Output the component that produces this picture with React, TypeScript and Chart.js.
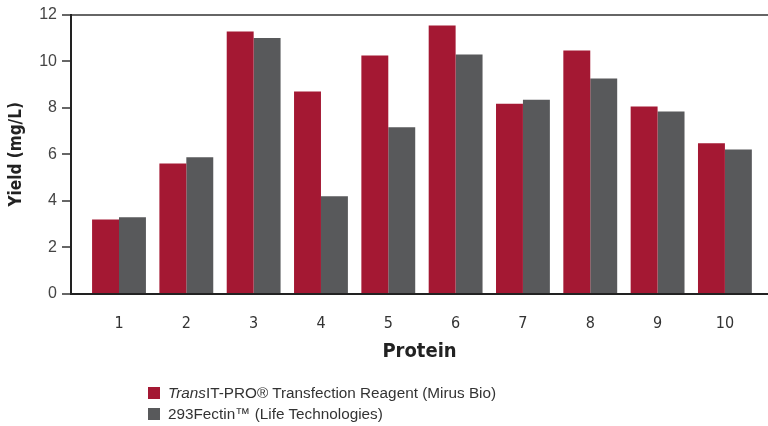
import React, { useEffect, useRef } from "react";
import { Chart, registerables } from "chart.js";

Chart.register(...registerables);

const categories = [1, 2, 3, 4, 5, 6, 7, 8, 9, 10];
const transitPro = [3.2, 5.6, 11.27, 8.7, 10.24, 11.53, 8.17, 10.46, 8.05, 6.47];
const fectin293 = [3.3, 5.87, 11.0, 4.2, 7.16, 10.29, 8.34, 9.26, 7.84, 6.21];
const yTicks = [0, 2, 4, 6, 8, 10, 12];
const seriesNames = ["TransIT-PRO® Transfection Reagent (Mirus Bio)", "293Fectin™ (Life Technologies)"];
const seriesColors = ["#A41833", "#58595B"];

const narrow = '"Liberation Sans Narrow", "DejaVu Sans Condensed", "Roboto Condensed", "Arial Narrow", sans-serif';
const regular = '"Liberation Sans", Arial, sans-serif';

export default function App() {
  const ref = useRef<HTMLCanvasElement | null>(null);

  useEffect(() => {
    document.body.style.margin = "0";
    const canvas = ref.current;
    if (!canvas) return;
    const chart = new Chart(canvas, {
      type: "bar",
      data: {
        datasets: [
          {
            label: seriesNames[0],
            data: categories.map((c, i) => ({ x: c, y: transitPro[i] })),
            backgroundColor: seriesColors[0],
            borderWidth: 0,
          },
          {
            label: seriesNames[1],
            data: categories.map((c, i) => ({ x: c, y: fectin293[i] })),
            backgroundColor: seriesColors[1],
            borderWidth: 0,
          },
        ],
      },
      options: {
        animation: false,
        responsive: false,
        maintainAspectRatio: false,
        layout: { padding: { top: 14, right: 0, bottom: 62, left: 0 } },
        datasets: { bar: { categoryPercentage: 0.8, barPercentage: 1 } },
        plugins: {
          legend: { display: false },
          tooltip: { enabled: false },
        },
        scales: {
          x: {
            type: "linear",
            offset: false,
            bounds: "ticks",
            min: 0.287,
            max: 10.64,
            afterBuildTicks: (scale: any) => {
              scale.ticks = categories.map((v) => ({ value: v }));
            },
            afterFit: (scale: any) => {
              scale.height = 70;
            },
            grid: { display: false },
            border: { display: true, color: "#222", width: 2 },
            ticks: {
              padding: 12,
              color: "#333",
              maxRotation: 0,
              autoSkip: false,
              font: { family: narrow, size: 16 },
              callback: (v: any) => String(v),
            },
            title: {
              display: true,
              text: "Protein",
              color: "#222",
              font: { family: narrow, size: 20, weight: "bold" },
              padding: { top: 6, bottom: 0 },
            },
          },
          y: {
            min: 0,
            max: 12,
            afterBuildTicks: (scale: any) => {
              scale.ticks = yTicks.map((v) => ({ value: v }));
            },
            afterFit: (scale: any) => {
              scale.width = 71;
            },
            grid: {
              display: true,
              drawOnChartArea: true,
              drawTicks: true,
              tickLength: 9,
              tickColor: "#333",
              tickWidth: 1.5,
              lineWidth: 2,
              color: (ctx: any) => (ctx.tick && ctx.tick.value === 12 ? "#666" : "rgba(0,0,0,0)"),
            },
            border: { display: true, color: "#222", width: 2 },
            ticks: {
              padding: 5,
              color: "#444",
              font: { family: regular, size: 16 },
            },
            title: {
              display: true,
              text: "Yield (mg/L)",
              color: "#222",
              font: { family: narrow, size: 17, weight: "bold" },
              padding: { top: 6, bottom: 0 },
            },
          },
        },
      },
    });
    return () => chart.destroy();
  }, []);

  const legendItem = (i: number, top: number) => (
    <div
      key={i}
      style={{
        position: "absolute",
        left: 148,
        top,
        display: "flex",
        alignItems: "center",
        fontFamily: regular,
        fontSize: 15.3,
        color: "#333",
        whiteSpace: "nowrap",
      }}
    >
      <span style={{ display: "inline-block", width: 12, height: 12, background: seriesColors[i], marginRight: 8 }} />
      {i === 0 ? (
        <span>
          <i>Trans</i>
          {seriesNames[0].slice(5)}
        </span>
      ) : (
        <span>{seriesNames[1]}</span>
      )}
    </div>
  );

  return (
    <div style={{ position: "relative", width: 768, height: 426, background: "#fff" }}>
      <canvas ref={ref} width={768} height={426} style={{ display: "block", width: 768, height: 426 }} />
      {legendItem(0, 384)}
      {legendItem(1, 405)}
    </div>
  );
}
